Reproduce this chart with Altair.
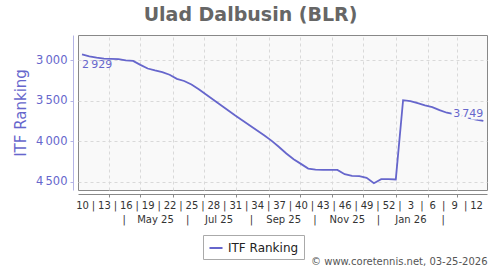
import json
from datetime import date
import altair as alt
import pandas as pd

TITLE = "Ulad Dalbusin (BLR)"
SERIES = "ITF Ranking"
FOOTER = "\u00a9 www.coretennis.net, 03-25-2026"

# weekly index (0 = week 10 of 2025, 55 = week 13 of 2026)
week_index = list(range(56))
rankings = [2929, 2953, 2970, 2982, 2985, 2988, 3003, 3009, 3058, 3103,
            3127, 3148, 3180, 3230, 3257, 3300, 3358, 3423, 3487, 3552,
            3617, 3682, 3743, 3805, 3867, 3928, 3995, 4070, 4150, 4221,
            4278, 4336, 4350, 4352, 4352, 4352, 4405, 4427, 4430, 4450,
            4517, 4467, 4467, 4470, 3493, 3505, 3530, 3558, 3578, 3615,
            3648, 3665, 3685, 3712, 3732, 3749]

# first row of x labels: ISO week numbers every 3 weeks, separators between
week_labels = ["10", "13", "16", "19", "22", "25", "28", "31", "34", "37",
               "40", "43", "46", "49", "52", "3", "6", "9", "12"]
ORIGIN = date(2025, 3, 6)


def pos(d):
    return round((d - ORIGIN).days / 7.0, 3)


month_starts = [date(2025, m, 1) for m in range(4, 13)] + [date(2026, m, 1) for m in (1, 2, 3)]
month_pos = [pos(d) for d in month_starts]

row1_vals, row1_text = [], []
for k, lab in enumerate(week_labels):
    row1_vals.append(3 * k)
    row1_text.append(lab)
    if k < len(week_labels) - 1:
        row1_vals.append(3 * k + 1.5)
        row1_text.append("|")

# second row: month labels (mid-month) with separators every two months
row2_dates = [date(2025, 4, 15), date(2025, 5, 15), date(2025, 6, 15), date(2025, 7, 15),
              date(2025, 8, 15), date(2025, 9, 15), date(2025, 10, 15), date(2025, 11, 15),
              date(2025, 12, 15), date(2026, 1, 15), date(2026, 2, 15)]
row2_text = ["|", "May 25", "|", "Jul 25", "|", "Sep 25", "|", "Nov 25", "|", "Jan 26", "|"]
row2_vals = [pos(d) for d in row2_dates]

y_ticks = [3000, 3500, 4000, 4500]


def lookup_expr(vals, texts):
    return f"{json.dumps(texts)}[indexof({json.dumps(vals)}, datum.value)]"


def fmt(v):
    return f"{v:,}".replace(",", "\u2009")


df = pd.DataFrame({"i": week_index, "rank": rankings, "series": SERIES})
first_df = pd.DataFrame({"i": [week_index[0]], "rank": [rankings[0]], "txt": [fmt(rankings[0])]})
last_df = pd.DataFrame({"i": [week_index[-1]], "rank": [rankings[-1]], "txt": [fmt(rankings[-1])]})

LINE = "#6666cc"
FONT = "DejaVu Sans"
xscale = alt.Scale(domain=[-0.55, 55.5], nice=False, zero=False)
yscale = alt.Scale(domain=[2690, 4600], reverse=True, nice=False, zero=False)

y_axis = alt.Axis(
    values=y_ticks, labelExpr="replace(format(datum.value, ','), ',', '\u2009')",
    grid=True, gridDash=[3, 3], gridColor="#d9d9d9", offset=5,
    domainColor="#b4b4e6", tickColor="#b4b4e6", tickSize=3,
    labelColor=LINE, labelFontSize=11.5, labelPadding=3,
    title=SERIES, titleColor=LINE, titleFontSize=15, titleFontWeight="normal",
    titlePadding=7)
Y = alt.Y("rank:Q", scale=yscale, axis=y_axis, title=SERIES)

line = alt.Chart(df).mark_line(strokeWidth=1.8).encode(
    x=alt.X("i:Q", scale=xscale, axis=alt.Axis(
        orient="bottom", values=month_pos, labels=False, grid=True,
        gridDash=[3, 3], gridColor="#d9d9d9", domainColor="#888888",
        tickColor="#888888", tickSize=3, offset=4, title=None)),
    y=Y,
    color=alt.Color("series:N", scale=alt.Scale(range=[LINE]), legend=alt.Legend(
        title=None, orient="none", legendX=125, legendY=200, strokeColor="#aaaaaa",
        fillColor="white", padding=5, symbolType="stroke", symbolSize=170,
        symbolStrokeWidth=2, labelFontSize=12, labelColor="#222222", labelFont=FONT,
        cornerRadius=0)),
)

first_lbl = alt.Chart(first_df).mark_text(
    align="left", baseline="top", dy=5, fontSize=11, color=LINE, font=FONT
).encode(
    x=alt.X("i:Q", scale=xscale, axis=alt.Axis(
        orient="bottom", values=row1_vals, labelExpr=lookup_expr(row1_vals, row1_text),
        domain=False, ticks=False, grid=False, offset=4, labelPadding=6,
        labelFontSize=10, labelColor="#333333", labelOverlap=False, labelFlush=False,
        labelBound=False, title=None)),
    y=Y,
    text="txt:N",
)

last_halo = alt.Chart(last_df).mark_text(
    align="right", baseline="alphabetic", dy=-4, fontSize=11, color="#f9f9f9",
    stroke="#f9f9f9", strokeWidth=5, font=FONT
).encode(
    x=alt.X("i:Q", scale=xscale, axis=None),
    y=Y,
    text="txt:N",
)

last_lbl = alt.Chart(last_df).mark_text(
    align="right", baseline="alphabetic", dy=-4, fontSize=11, color=LINE, font=FONT
).encode(
    x=alt.X("i:Q", scale=xscale, axis=alt.Axis(
        orient="bottom", values=row2_vals, labelExpr=lookup_expr(row2_vals, row2_text),
        domain=False, ticks=False, grid=False, offset=21, labelPadding=3,
        labelFontSize=10, labelColor="#333333", labelOverlap=False, labelFlush=False,
        labelBound=False, title=FOOTER, titleAnchor="end", titleFontSize=10,
        titleFontWeight="normal", titleColor="#555555", titlePadding=32, titleFont=FONT)),
    y=Y,
    text="txt:N",
)

chart = alt.layer(line, first_lbl, last_halo, last_lbl).resolve_axis(
    x="independent", y="shared"
).properties(
    width=409, height=155,
    padding={"left": 78, "top": 35, "right": 13, "bottom": 80},
    autosize=alt.AutoSizeParams(type="none"),
    title=alt.TitleParams(TITLE, fontSize=19, fontWeight="bold", color="#666666",
                          dx=-32, offset=10, anchor="middle", font=FONT),
    background="white",
).configure(
    font=FONT
).configure_view(
    fill="#f9f9f9", stroke="#888888", strokeWidth=1
)

chart.save("out.html", embed_options={"renderer": "svg", "actions": False})
